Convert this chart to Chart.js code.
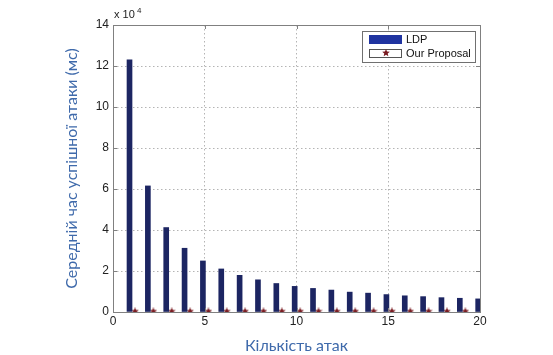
<!DOCTYPE html>
<html>
<head>
<meta charset="utf-8">
<script src="https://cdn.jsdelivr.net/npm/chart.js@4"></script>
<style>
  html, body { margin: 0; padding: 0; background: #ffffff; }
  #wrap { width: 553px; height: 355px; position: relative; }
</style>
</head>
<body>
<div id="wrap"><canvas id="c" width="553" height="355"></canvas></div>
<script>
// ---- data ----
const categories = [1, 2, 3, 4, 5, 6, 7, 8, 9, 10, 11, 12, 13, 14, 15, 16, 17, 18, 19, 20];
const ldpValues = [123000, 61500, 41200, 31100, 24900, 21000, 17900, 15700, 13900, 12500,
                   11500, 10700, 9700, 9200, 8500, 7900, 7500, 7000, 6700, 6400];
const proposalValues = [300, 300, 300, 300, 300, 300, 300, 300, 300, 300,
                        300, 300, 300, 300, 300, 300, 300, 300, 300, 300];
const xTickValues = [0, 5, 10, 15, 20];
const yTickValues = [0, 20000, 40000, 60000, 80000, 100000, 120000, 140000];
const seriesNames = ['LDP', 'Our Proposal'];
const xTitle = 'Кількість атак';
const yTitle = 'Середній час успішної атаки (мс)';

// ---- styles ----
const barColor = '#1c2562';
const legendBarColor = '#1f33a0';
const starColor = '#7a1c22';
const titleColor = '#3f6aab';
const tickFont = { family: '"Liberation Sans", Arial, sans-serif', size: 12 };

function makeStar(size, color) {
  const cv = document.createElement('canvas');
  cv.width = size; cv.height = size;
  const g = cv.getContext('2d');
  const cx = size / 2, cy = size / 2, R = size / 2, r = R * 0.45;
  g.beginPath();
  for (let i = 0; i < 10; i++) {
    const ang = -Math.PI / 2 + i * Math.PI / 5;
    const rad = i % 2 === 0 ? R : r;
    const px = cx + rad * Math.cos(ang), py = cy + rad * Math.sin(ang);
    if (i === 0) g.moveTo(px, py); else g.lineTo(px, py);
  }
  g.closePath();
  g.fillStyle = color;
  g.fill();
  return cv;
}
const starImg = makeStar(8, starColor);

const BAR_OFFSET = -0.1;
const STAR_OFFSET = 0.2;

const frame = {
  id: 'frame',
  afterDraw(chart) {
    const ctx = chart.ctx;
    const a = chart.chartArea;
    const xs = chart.scales.x, ys = chart.scales.y;
    ctx.save();
    // border
    ctx.strokeStyle = '#808080';
    ctx.lineWidth = 1;
    ctx.strokeRect(Math.round(a.left) + 0.5, Math.round(a.top) + 0.5,
                   Math.round(a.right - a.left), Math.round(a.bottom - a.top));
    // inward tick marks
    ctx.beginPath();
    xTickValues.forEach(v => {
      const px = Math.round(xs.getPixelForValue(v)) + 0.5;
      ctx.moveTo(px, a.bottom); ctx.lineTo(px, a.bottom - 4);
      ctx.moveTo(px, a.top); ctx.lineTo(px, a.top + 4);
    });
    yTickValues.forEach(v => {
      const py = Math.round(ys.getPixelForValue(v)) + 0.5;
      ctx.moveTo(a.left, py); ctx.lineTo(a.left + 4, py);
      ctx.moveTo(a.right, py); ctx.lineTo(a.right - 4, py);
    });
    ctx.stroke();
    // exponent label
    ctx.fillStyle = '#222';
    ctx.font = '11px "Liberation Sans", Arial, sans-serif';
    ctx.textBaseline = 'alphabetic';
    ctx.textAlign = 'left';
    ctx.fillText('x 10', a.left + 1, a.top - 7);
    ctx.font = '8px "Liberation Sans", Arial, sans-serif';
    ctx.fillText('4', a.left + 24, a.top - 12);
    // legend
    const lx = 362, ly = 31, lw = 113, lh = 31;
    ctx.fillStyle = '#ffffff';
    ctx.fillRect(lx, ly, lw, lh);
    ctx.strokeStyle = '#707070';
    ctx.strokeRect(lx + 0.5, ly + 0.5, lw, lh);
    ctx.fillStyle = legendBarColor;
    ctx.fillRect(lx + 7, ly + 4, 33, 9);
    ctx.strokeStyle = '#555';
    ctx.strokeRect(lx + 7.5, ly + 18.5, 32, 8);
    ctx.drawImage(starImg, lx + 20, ly + 18);
    ctx.fillStyle = '#111';
    ctx.font = '11px "Liberation Sans", Arial, sans-serif';
    ctx.textBaseline = 'middle';
    ctx.fillText(seriesNames[0], lx + 44, ly + 9);
    ctx.fillText(seriesNames[1], lx + 44, ly + 23);
    ctx.restore();
  }
};

new Chart(document.getElementById('c'), {
  data: {
    datasets: [
      {
        type: 'bar',
        label: seriesNames[0],
        data: categories.map((c, i) => ({ x: c + BAR_OFFSET, y: ldpValues[i] })),
        backgroundColor: barColor,
        borderWidth: 0,
        barThickness: 5,
        grouped: false
      },
      {
        type: 'scatter',
        label: seriesNames[1],
        data: categories.map((c, i) => ({ x: c + STAR_OFFSET, y: proposalValues[i] })),
        pointStyle: starImg,
        pointRadius: 4,
        showLine: false
      }
    ]
  },
  options: {
    responsive: false,
    animation: false,
    events: [],
    layout: { padding: { top: 25, right: 73, left: 0, bottom: 0 } },
    plugins: { legend: { display: false }, tooltip: { enabled: false } },
    scales: {
      x: {
        type: 'linear',
        min: 0, max: 20,
        offset: false,
        afterBuildTicks(s) { s.ticks = xTickValues.map(v => ({ value: v })); },
        afterFit(s) { s.height = 43; },
        ticks: { color: '#222', font: tickFont, padding: 2, maxRotation: 0,
                 callback: v => String(v) },
        grid: { color: '#b4b4b4', offset: false, drawTicks: false, lineWidth: 1 },
        border: { display: false, dash: [1.5, 2.5] },
        title: { display: true, text: xTitle, color: titleColor,
                 font: { family: 'Lato, "Open Sans", sans-serif', size: 16 },
                 padding: { top: 5, bottom: 0 } }
      },
      y: {
        type: 'linear',
        min: 0, max: 140000,
        afterBuildTicks(s) { s.ticks = yTickValues.map(v => ({ value: v })); },
        afterFit(s) { s.width = 113; },
        ticks: { color: '#222', font: tickFont, padding: 4,
                 callback: v => String(v / 10000) },
        grid: { color: '#b4b4b4', drawTicks: false, lineWidth: 1 },
        border: { display: false, dash: [1.5, 2.5] },
        title: { display: true, text: yTitle, color: titleColor,
                 font: { family: 'Lato, "Open Sans", sans-serif', size: 16 },
                 padding: { top: 62, bottom: 0 } }
      }
    }
  },
  plugins: [frame]
});
</script>
</body>
</html>
